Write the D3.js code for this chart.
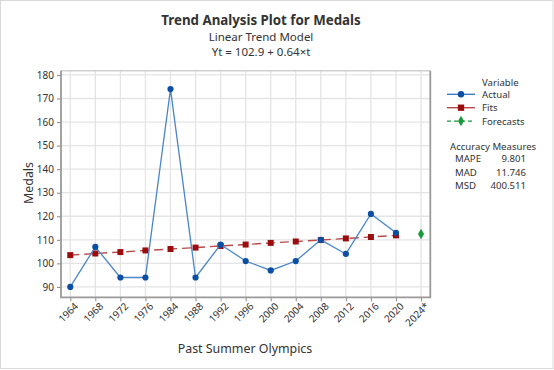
<!DOCTYPE html>
<html>
<head>
<meta charset="utf-8">
<script src="https://cdn.jsdelivr.net/npm/d3@7"></script>
<style>
body{margin:0;background:#fff;}
svg text{font-family:"Noto Sans","Open Sans",sans-serif;fill:#333;}
</style>
</head>
<body>
<div id="chart"></div>
<script>

var years=["1964","1968","1972","1976","1984","1988","1992","1996","2000","2004","2008","2012","2016","2020","2024*"];
var actual=[90,107,94,94,174,94,108,101,97,101,110,104,121,113];
var fits=[103.5,104.2,104.8,105.5,106.1,106.7,107.4,108.0,108.7,109.3,109.9,110.6,111.2,111.9];
var forecasts=[112.5];
var yTicks=[90,100,110,120,130,140,150,160,170,180];
var measureNames=["MAPE","MAD","MSD"];
var measureValues=["9.801","11.746","400.511"];

var W=554,H=370;
var svg=d3.select("#chart").append("svg").attr("width",W).attr("height",H);

svg.append("rect").attr("x",0.5).attr("y",0.5).attr("width",W-1.5).attr("height",H-2)
  .attr("fill","#fff").attr("stroke","#d9d9d9");

var pL=61,pR=430.3,pT=70.7,pB=297.3;

var x=d3.scalePoint().domain(years).range([pL,pR]).padding(0.37);
var y=d3.scaleLinear().domain([85.6,181.8]).range([pB,pT]);

// grid
svg.append("g").selectAll("line").data(years).enter().append("line")
  .attr("x1",function(d){return x(d);}).attr("x2",function(d){return x(d);})
  .attr("y1",pT).attr("y2",pB).attr("stroke","#e4e4e4").attr("stroke-width",1.3);
svg.append("g").selectAll("line").data(yTicks).enter().append("line")
  .attr("x1",pL).attr("x2",pR)
  .attr("y1",function(d){return y(d);}).attr("y2",function(d){return y(d);})
  .attr("stroke","#e4e4e4").attr("stroke-width",1.3);

// axes
var yAxis=svg.append("g").attr("transform","translate("+pL+",0)")
  .call(d3.axisLeft(y).tickValues(yTicks).tickSize(4).tickPadding(3));
var xAxis=svg.append("g").attr("transform","translate(0,"+pB+")")
  .call(d3.axisBottom(x).tickSize(4).tickPadding(3));
yAxis.select(".domain").remove();
xAxis.select(".domain").remove();
svg.selectAll(".tick line").attr("stroke","#888");
yAxis.selectAll("text").style("font-size","10px").attr("fill","#333");
xAxis.selectAll("text").style("font-size","10px").attr("fill","#333")
  .style("text-anchor","end")
  .attr("dx","-0.1em").attr("dy","0.55em")
  .attr("transform","rotate(-45)");

// frame
svg.append("line").attr("x1",pL).attr("x2",pR).attr("y1",pT).attr("y2",pT).attr("stroke","#cfcfcf").attr("stroke-width",1.5);
svg.append("path").attr("d","M"+pL+","+pT+"V"+pB+"H"+pR+"V"+pT)
  .attr("fill","none").attr("stroke","#9a9a9a").attr("stroke-width",1.8);

// fits
var fitLine=d3.line().x(function(d,i){return x(years[i]);}).y(function(d){return y(d);});
svg.append("path").datum(fits).attr("d",fitLine).attr("fill","none")
  .attr("stroke","#b84a4a").attr("stroke-width",1.4).attr("stroke-dasharray","9,5");
svg.append("g").selectAll("rect").data(fits).enter().append("rect")
  .attr("x",function(d,i){return x(years[i])-3;}).attr("y",function(d){return y(d)-3;})
  .attr("width",6).attr("height",6).attr("fill","#9b0d0d");

// actual
svg.append("path").datum(actual).attr("d",fitLine).attr("fill","none")
  .attr("stroke","#4a86c8").attr("stroke-width",1.3);
svg.append("g").selectAll("circle").data(actual).enter().append("circle")
  .attr("cx",function(d,i){return x(years[i]);}).attr("cy",function(d){return y(d);})
  .attr("r",3.1).attr("fill","#0a4fa3");

// forecast
svg.append("g").selectAll("path").data(forecasts).enter().append("path")
  .attr("d",d3.symbol().type(d3.symbolDiamond).size(32))
  .attr("transform",function(d,i){return "translate("+x(years[fits.length+i])+","+y(d)+")";})
  .attr("fill","#1a9a3c");

// titles
svg.append("text").attr("x",261).attr("y",25).attr("text-anchor","middle")
  .style("font-size","13.3px").style("font-weight","bold").text("Trend Analysis Plot for Medals");
svg.append("text").attr("x",261).attr("y",40.5).attr("text-anchor","middle")
  .style("font-size","11.5px").attr("fill","#555").text("Linear Trend Model");
svg.append("text").attr("x",261).attr("y",56).attr("text-anchor","middle")
  .style("font-size","11.5px").attr("fill","#555").text("Yt = 102.9 + 0.64×t");
svg.append("text").attr("transform","translate(33,183) rotate(-90)").attr("text-anchor","middle")
  .style("font-size","12.4px").attr("fill","#444").text("Medals");
svg.append("text").attr("x",245).attr("y",353).attr("text-anchor","middle")
  .style("font-size","12.4px").attr("fill","#444").text("Past Summer Olympics");

// legend
var lg=svg.append("g");
lg.append("text").attr("x",482).attr("y",86).style("font-size","9.6px").text("Variable");
var items=[
  {name:"Actual",color:"#0a4fa3",line:"#3d7cc4",dash:null,shape:d3.symbolCircle,size:32},
  {name:"Fits",color:"#9b0d0d",line:"#b84a4a",dash:null,shape:d3.symbolSquare,size:40},
  {name:"Forecasts",color:"#1a9a3c",line:"#1a9a3c",dash:"4,3",shape:d3.symbolDiamond,size:32}
];
items.forEach(function(it,i){
  var yy=94.3+i*13.4;
  lg.append("line").attr("x1",447).attr("x2",475).attr("y1",yy).attr("y2",yy)
    .attr("stroke",it.line).attr("stroke-width",1.4).attr("stroke-dasharray",it.dash);
  lg.append("path").attr("d",d3.symbol().type(it.shape).size(it.size))
    .attr("transform","translate(461,"+yy+")").attr("fill",it.color);
  lg.append("text").attr("x",482).attr("y",yy+3.5).style("font-size","9.6px").text(it.name);
});
lg.append("text").attr("x",450).attr("y",149.5).style("font-size","9.6px").text("Accuracy Measures");
measureNames.forEach(function(m,i){
  var yy=162.2+i*13.3;
  lg.append("text").attr("x",455).attr("y",yy).style("font-size","9.6px").text(m);
  lg.append("text").attr("x",526).attr("y",yy).attr("text-anchor","end").style("font-size","9.6px").text(measureValues[i]);
});

</script>
</body>
</html>
